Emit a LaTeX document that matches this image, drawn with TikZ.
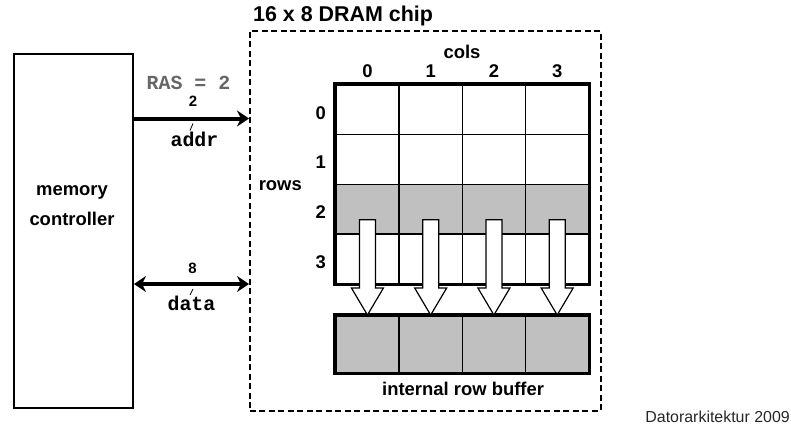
\documentclass[tikz,border=0pt]{standalone}
\usepackage{fontspec}
\setmainfont{Liberation Sans}
\newfontfamily\busfont{Liberation Mono}
\usetikzlibrary{positioning, arrows.meta, calc}

\definecolor{rowgray}{RGB}{192,192,192}
\definecolor{rasgray}{RGB}{102,102,102}

\begin{document}
\begin{tikzpicture}[
    x=1bp, y=-1bp,
    >={Stealth[length=12bp, width=16bp]},
    every node/.style={inner sep=0pt, font=\bfseries\fontsize{18.5}{22}\selectfont},
    cell/.style={draw, line width=1.6bp, minimum width=63.25bp, minimum height=49.75bp, anchor=north west},
    bufcell/.style={cell, fill=rowgray, minimum height=57bp},
    frame/.style={line width=3.5bp},
    bus/.style={line width=4bp},
    busname/.style={font=\busfont\bfseries\fontsize{20}{22}\selectfont},
    buswidth/.style={font=\bfseries\fontsize{15}{18}\selectfont},
    tick/.style={line width=0.8bp},
    bigarrow/.style={draw, fill=white, line width=1.2bp, line join=miter}
]

\useasboundingbox (0,0) rectangle (791,426);

% memory controller
\node[draw, line width=2bp, minimum width=119bp, minimum height=354bp, anchor=north west] (mc) at (13,53) {};
\node[align=center, font=\bfseries\fontsize{18.5}{30}\selectfont] (mclabel) at (72,206) {memory\\controller};

% dram chip
\node[draw, dash pattern=on 6bp off 3.5bp, line width=1.6bp, minimum width=351bp, minimum height=380bp, anchor=north west] (chip) at (249,30) {};
\node[anchor=base west, font=\bfseries\fontsize{21.5}{25}\selectfont] (chiptitle) at (253,21) {16 x 8 DRAM chip};

% cell array
\foreach \r/\fc in {0/white, 1/white, 2/rowgray, 3/white}
  \foreach \c in {0,...,3}
    \node[cell, fill=\fc] (cell-\r-\c) at ({335+63.25*\c}, {84+49.75*\r}) {};
\draw[frame] (cell-0-0.north west) rectangle (cell-3-3.south east);

% internal row buffer
\foreach \c in {0,...,3}
  \node[bufcell] (buf-\c) at ({335+63.25*\c}, 315) {};
\draw[frame] (buf-0.north west) rectangle (buf-3.south east);

% row to buffer arrows
\foreach \c in {0,...,3}
  \draw[bigarrow] ($(cell-2-\c.center)+(-8,10.5)$) -- ($(buf-\c.north)+(-8,-27)$) -- ++(-8,0)
    -- (buf-\c.north) -- ++(16,-27) -- ++(-8,0) -- ($(cell-2-\c.center)+(8,10.5)$) -- cycle;

% labels
\node (cols) at (462,51.5) {cols};
\foreach \c in {0,...,3}
  \node[above=6bp of cell-0-\c.north] (col-\c) {\c};
\node[anchor=east] (rows) at (302,186) {rows};
\foreach \r in {0,...,3}
  \node[left=9bp of cell-\r-0.west, yshift=-3bp] (row-\r) {\r};
\node[below=8bp of buf-1.south east] (buflabel) {internal row buffer};

% buses
\coordinate (addrpin) at (chip.west |- 0,118.5);
\coordinate (datapin) at (chip.west |- 0,284);
\draw[bus, ->] (mc.east |- addrpin) -- (addrpin) coordinate[pos=0.5] (addrmid);
\draw[bus, <->] (mc.east |- datapin) -- (datapin) coordinate[pos=0.5] (datamid);

\node[busname, text=rasgray, above=29bp of addrmid, xshift=-3bp] (ras) {RAS = 2};
\node[buswidth, above=12bp of addrmid, xshift=1.5bp] (addrwidth) {2};
\draw[tick] ($(addrmid)+(1.5,5)$) -- ($(addrmid)+(-1.5,12)$);
\node[busname, below=13bp of addrmid, xshift=3bp] (addrname) {addr};

\node[buswidth, above=10bp of datamid, xshift=1bp] (datawidth) {8};
\draw[tick] ($(datamid)+(1.5,5)$) -- ($(datamid)+(-1.5,11)$);
\node[busname, below=12bp of datamid] (dataname) {data};

% footer
\node[anchor=base east, font=\fontsize{16}{19}\selectfont, text=black!85] (footer) at (790,422) {Datorarkitektur 2009};
\end{tikzpicture}
\end{document}
